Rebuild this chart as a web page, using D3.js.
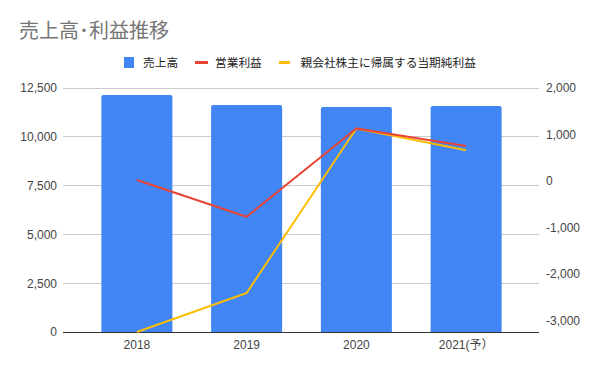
<!DOCTYPE html>
<html>
<head>
<meta charset="utf-8">
<script src="https://cdn.jsdelivr.net/npm/d3@7"></script>
<style>
  html, body { margin: 0; padding: 0; background: #fff; }
  svg { display: block; font-family: "Liberation Sans", Arial, "Noto Sans CJK JP", sans-serif; }
</style>
</head>
<body>
<svg id="chart" width="600" height="371"></svg>
<script>
const categories = ["2018", "2019", "2020", "2021(予）"];
const sales = [12140, 11630, 11530, 11580];
const operatingIncome = [20, -770, 1130, 750];
const netIncome = [-3250, -2410, 1130, 660];
const leftTicks = [0, 2500, 5000, 7500, 10000, 12500];
const rightTicks = [-3000, -2000, -1000, 0, 1000, 2000];
const seriesNames = ["売上高", "営業利益", "親会社株主に帰属する当期純利益"];
const titleText = "売上高･利益推移";

const colors = { bar: "#4285F4", op: "#EA4335", net: "#FBBC04" };
const svg = d3.select("#chart");
const plot = { top: 88, bottom: 332, gridLeft: 63, gridRight: 539, bandLeft: 82, bandRight: 521 };

const x = d3.scaleBand().domain(categories).range([plot.bandLeft, plot.bandRight]).paddingInner(0.353).paddingOuter(0.1765);
const yL = d3.scaleLinear().domain([0, 12500]).range([plot.bottom, plot.top]);
const yR = d3.scaleLinear().domain([-3250, 2000]).range([plot.bottom, plot.top]);
const fmt = d => d3.format(",")(d).replace("\u2212", "-");

// title
svg.append("text").attr("x", 19).attr("y", 38).attr("font-size", 20).attr("fill", "#757575")
  .attr("font-family", "'Noto Sans CJK JP', sans-serif").text(titleText);

// gridlines
svg.append("g").selectAll("line").data(leftTicks.filter(d => d !== 0)).join("line")
  .attr("x1", plot.gridLeft).attr("x2", plot.gridRight)
  .attr("y1", d => yL(d)).attr("y2", d => yL(d))
  .attr("stroke", "#cccccc").attr("stroke-width", 1).attr("shape-rendering", "crispEdges");

// left axis
const leftAxis = d3.axisLeft(yL).tickValues(leftTicks).tickFormat(fmt).tickSize(0).tickPadding(0);
const gL = svg.append("g").attr("transform", `translate(57,0)`).call(leftAxis);
gL.select(".domain").remove();
gL.selectAll("text").attr("font-size", 12).attr("fill", "#444").attr("font-family", "'Liberation Sans', Arial, sans-serif");

// right axis
const rightAxis = d3.axisRight(yR).tickValues(rightTicks).tickFormat(fmt).tickSize(0).tickPadding(0);
const gR = svg.append("g").attr("transform", `translate(546,0)`).call(rightAxis);
gR.select(".domain").remove();
gR.selectAll("text").attr("font-size", 12).attr("fill", "#444").attr("font-family", "'Liberation Sans', Arial, sans-serif");

// bars with rounded tops
const r = 2;
svg.append("g").selectAll("path").data(sales).join("path")
  .attr("fill", colors.bar)
  .attr("d", (d, i) => {
    const x0 = x(categories[i]), w = x.bandwidth(), y0 = yL(d), y1 = yL(0);
    return `M${x0},${y1}V${y0 + r}Q${x0},${y0} ${x0 + r},${y0}H${x0 + w - r}Q${x0 + w},${y0} ${x0 + w},${y0 + r}V${y1}Z`;
  });

// baseline
svg.append("line").attr("x1", plot.gridLeft).attr("x2", plot.gridRight)
  .attr("y1", plot.bottom).attr("y2", plot.bottom).attr("stroke", "#333").attr("stroke-width", 1)
  .attr("shape-rendering", "crispEdges");

// x axis labels
const xAxis = d3.axisBottom(x).tickSize(0).tickPadding(0);
const gX = svg.append("g").attr("transform", `translate(0,340)`).call(xAxis);
gX.select(".domain").remove();
gX.selectAll("text").attr("font-size", 12).attr("fill", "#444").attr("dy", "0.71em")
  .attr("font-family", "'Liberation Sans', Arial, 'Noto Sans CJK JP', sans-serif");

// lines
const cx = i => x(categories[i]) + x.bandwidth() / 2;
const lineGen = d3.line().x((d, i) => cx(i)).y(d => yR(d));
svg.append("path").datum(netIncome).attr("d", lineGen).attr("fill", "none")
  .attr("stroke", colors.net).attr("stroke-width", 2).attr("stroke-linejoin", "round");
svg.append("path").datum(operatingIncome).attr("d", lineGen).attr("fill", "none")
  .attr("stroke", colors.op).attr("stroke-width", 2).attr("stroke-linejoin", "round");

// legend
const lg = svg.append("g").attr("font-family", "'Noto Sans CJK JP', sans-serif").attr("font-size", 11.7).attr("fill", "#222");
const ly = 62.5;
lg.append("rect").attr("x", 124).attr("y", ly - 5.5).attr("width", 10).attr("height", 11).attr("fill", colors.bar);
lg.append("text").attr("x", 143).attr("y", ly).attr("dy", "0.36em").text(seriesNames[0]);
lg.append("line").attr("x1", 195).attr("x2", 208).attr("y1", ly).attr("y2", ly).attr("stroke", colors.op).attr("stroke-width", 3);
lg.append("text").attr("x", 215).attr("y", ly).attr("dy", "0.36em").text(seriesNames[1]);
lg.append("line").attr("x1", 279).attr("x2", 290).attr("y1", ly).attr("y2", ly).attr("stroke", colors.net).attr("stroke-width", 3);
lg.append("text").attr("x", 300.5).attr("y", ly).attr("dy", "0.36em").text(seriesNames[2]);
</script>
</body>
</html>
